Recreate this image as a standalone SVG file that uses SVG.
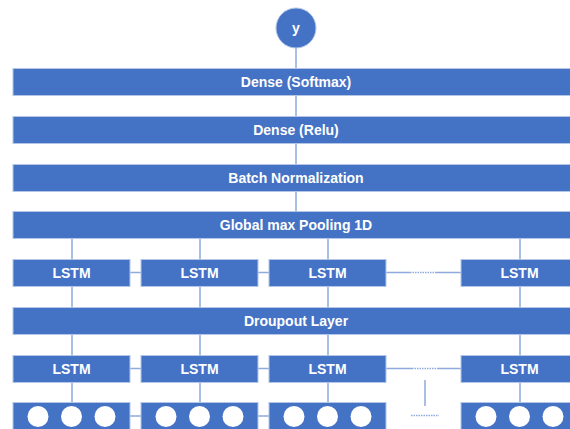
<svg xmlns="http://www.w3.org/2000/svg" width="570" height="429" viewBox="0 0 570 429">
<style>
.bar{fill:#4472C4;stroke:#B4C6E7;stroke-width:1}
.lbl{font-family:"Liberation Sans",Arial,sans-serif;font-weight:bold;font-size:14px;fill:#FFFFFF;text-anchor:middle}
.con{stroke:#8FAADC;stroke-width:1.5;fill:none}
.dot{stroke:#8FAADC;stroke-width:1.5;stroke-dasharray:1.5 1;fill:none}
.cell{fill:#FFFFFF}
</style>
<rect width="570" height="429" fill="#FFFFFF"/>
<g id="connectors">
<line class="con" x1="296" y1="48" x2="296" y2="68"/>
<line class="con" x1="296" y1="95" x2="296" y2="116"/>
<line class="con" x1="296" y1="143" x2="296" y2="164"/>
<line class="con" x1="296" y1="191" x2="296" y2="211"/>
<path class="con" d="M72 238V259M200 238V259M328 238V259M520 238V259"/>
<path class="con" d="M72 286V307M200 286V307M328 286V307M520 286V307"/>
<path class="con" d="M72 334V355M200 334V355M328 334V355M520 334V355"/>
<path class="con" d="M72 382V402M200 382V402M328 382V402M520 382V402"/>
<path class="con" d="M130 272.5H141M258 272.5H269M386 272.5H410M435 272.5H461"/>
<line class="dot" x1="410" y1="272.5" x2="435" y2="272.5"/>
<path class="con" d="M130 368.5H141M258 368.5H269M386 368.5H412M437 368.5H461"/>
<line class="dot" x1="412" y1="368.5" x2="437" y2="368.5"/>
<line class="con" x1="425" y1="380" x2="425" y2="406"/>
<line class="dot" x1="411" y1="415.5" x2="439" y2="415.5"/>
<path class="con" d="M130 416H141M258 416H269"/>
</g>
<g id="y">
<circle cx="296" cy="28" r="20" fill="#4472C4" stroke="#B4C6E7" stroke-width="1"/>
<text class="lbl" x="296" y="33">y</text>
</g>
<g id="dense-softmax">
<rect class="bar" x="13" y="68.5" width="566" height="27"/>
<text class="lbl" x="296" y="86.5">Dense (Softmax)</text>
</g>
<g id="dense-relu">
<rect class="bar" x="13" y="116.5" width="566" height="27"/>
<text class="lbl" x="296" y="134.5">Dense (Relu)</text>
</g>
<g id="batch-norm">
<rect class="bar" x="13" y="164.5" width="566" height="27"/>
<text class="lbl" x="296" y="182.5">Batch Normalization</text>
</g>
<g id="global-max-pooling">
<rect class="bar" x="13" y="211.5" width="566" height="27"/>
<text class="lbl" x="296" y="229.5">Global max Pooling 1D</text>
</g>
<g id="lstm-top-1"><rect class="bar" x="13" y="259.5" width="117" height="27"/><text class="lbl" x="71.5" y="277.5">LSTM</text></g>
<g id="lstm-top-2"><rect class="bar" x="141" y="259.5" width="117" height="27"/><text class="lbl" x="199.5" y="277.5">LSTM</text></g>
<g id="lstm-top-3"><rect class="bar" x="269" y="259.5" width="117" height="27"/><text class="lbl" x="327.5" y="277.5">LSTM</text></g>
<g id="lstm-top-4"><rect class="bar" x="461" y="259.5" width="117" height="27"/><text class="lbl" x="519.5" y="277.5">LSTM</text></g>
<g id="dropout">
<rect class="bar" x="13" y="307.5" width="566" height="27"/>
<text class="lbl" x="296" y="325.5">Droupout Layer</text>
</g>
<g id="lstm-bot-1"><rect class="bar" x="13" y="355.5" width="117" height="27"/><text class="lbl" x="71.5" y="373.5">LSTM</text></g>
<g id="lstm-bot-2"><rect class="bar" x="141" y="355.5" width="117" height="27"/><text class="lbl" x="199.5" y="373.5">LSTM</text></g>
<g id="lstm-bot-3"><rect class="bar" x="269" y="355.5" width="117" height="27"/><text class="lbl" x="327.5" y="373.5">LSTM</text></g>
<g id="lstm-bot-4"><rect class="bar" x="461" y="355.5" width="117" height="27"/><text class="lbl" x="519.5" y="373.5">LSTM</text></g>
<g id="input-1"><rect class="bar" x="13" y="402.5" width="117" height="30"/><circle class="cell" cx="38" cy="416.5" r="10.5"/><circle class="cell" cx="71.5" cy="416.5" r="10.5"/><circle class="cell" cx="105" cy="416.5" r="10.5"/></g>
<g id="input-2"><rect class="bar" x="141" y="402.5" width="117" height="30"/><circle class="cell" cx="166" cy="416.5" r="10.5"/><circle class="cell" cx="199.5" cy="416.5" r="10.5"/><circle class="cell" cx="233" cy="416.5" r="10.5"/></g>
<g id="input-3"><rect class="bar" x="269" y="402.5" width="117" height="30"/><circle class="cell" cx="294" cy="416.5" r="10.5"/><circle class="cell" cx="327.5" cy="416.5" r="10.5"/><circle class="cell" cx="361" cy="416.5" r="10.5"/></g>
<g id="input-4"><rect class="bar" x="461" y="402.5" width="117" height="30"/><circle class="cell" cx="486" cy="416.5" r="10.5"/><circle class="cell" cx="519.5" cy="416.5" r="10.5"/><circle class="cell" cx="553" cy="416.5" r="10.5"/></g>
</svg>
